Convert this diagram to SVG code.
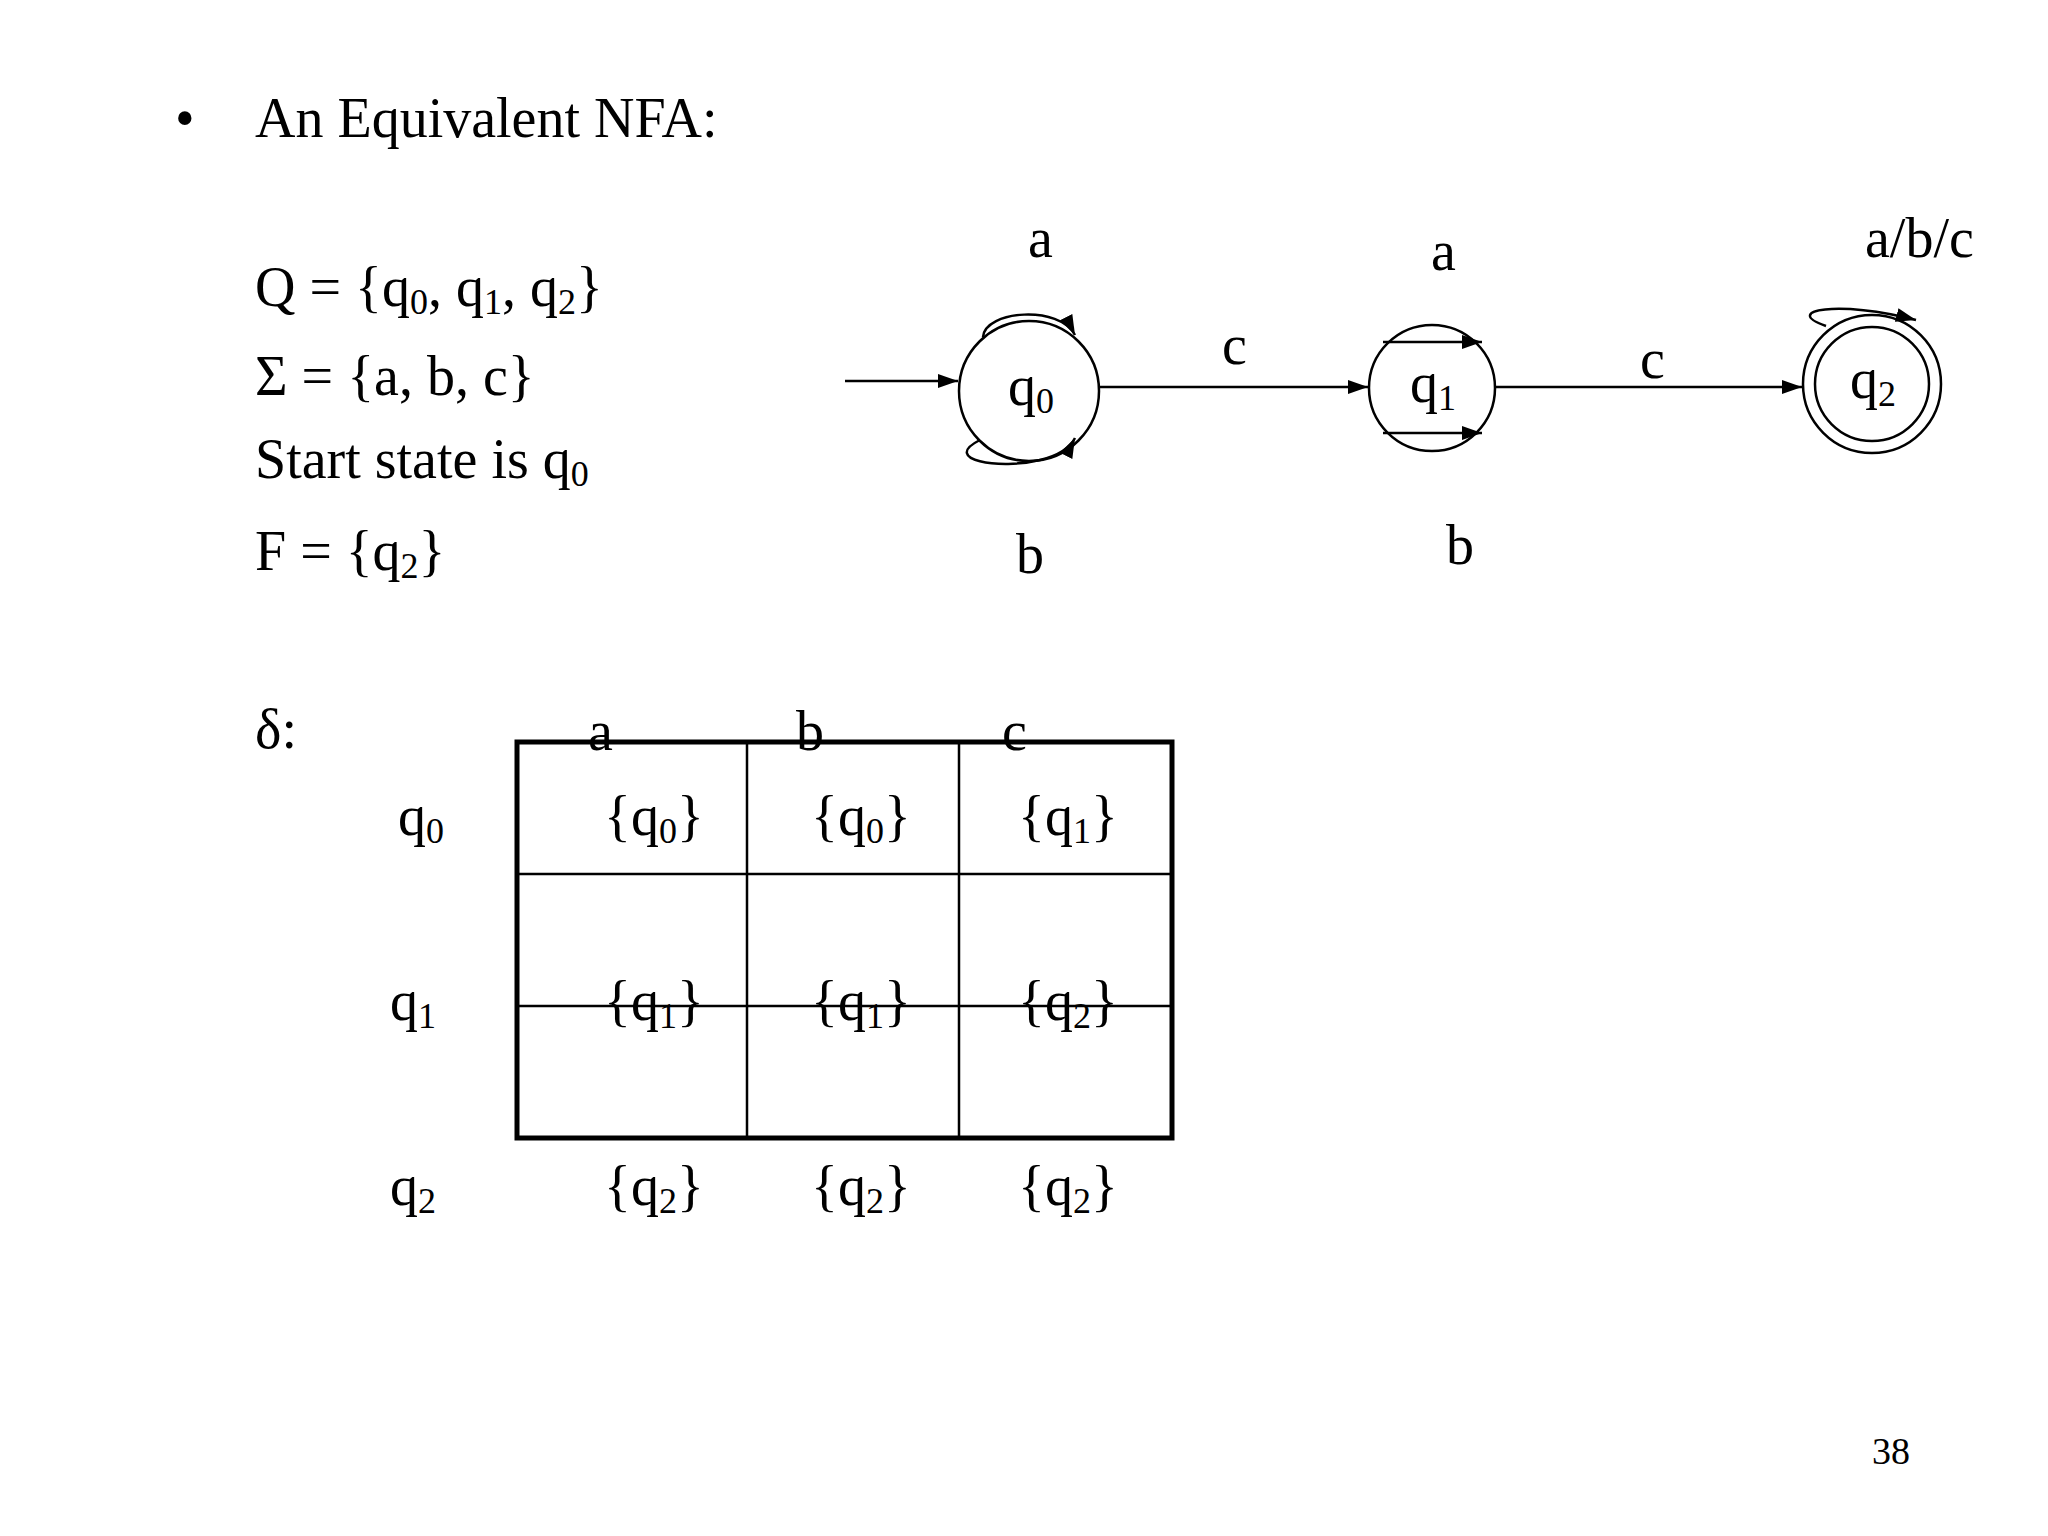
<svg xmlns="http://www.w3.org/2000/svg" width="2048" height="1536" viewBox="0 0 2048 1536">
<defs>
<style>
text{font-family:"Liberation Serif","Times New Roman",serif;font-size:56px;fill:#000}
.s{font-size:36px}
.ln{stroke:#000;stroke-width:2.5;fill:none}
.st{stroke:#000;stroke-width:2.5;fill:#fff}
</style>
<marker id="ah" viewBox="0 0 10 10" refX="10" refY="5" markerWidth="8" markerHeight="8" markerUnits="userSpaceOnUse" orient="auto"><path d="M0,0L10,5L0,10z" fill="#000"/></marker>
<marker id="ah2" viewBox="0 0 10 10" refX="10" refY="5" markerWidth="20" markerHeight="14" markerUnits="userSpaceOnUse" orient="auto" preserveAspectRatio="none"><path d="M0,0L10,5L0,10z" fill="#000"/></marker>
</defs>
<rect width="2048" height="1536" fill="#fff"/>
<g id="text">
<text x="175" y="137">•</text>
<text x="255" y="137">An Equivalent NFA:</text>
<text x="255" y="306">Q = {q<tspan class="s" dy="8">0</tspan><tspan dy="-8">, q</tspan><tspan class="s" dy="8">1</tspan><tspan dy="-8">, q</tspan><tspan class="s" dy="8">2</tspan><tspan dy="-8">}</tspan></text>
<text x="255" y="395">Σ = {a, b, c}</text>
<text x="255" y="478">Start state is q<tspan class="s" dy="8">0</tspan></text>
<text x="255" y="570">F = {q<tspan class="s" dy="8">2</tspan><tspan dy="-8">}</tspan></text>
<text x="1872" y="1464" style="font-size:38px">38</text>
</g>
<g id="connectors">
<line class="ln" x1="845" y1="381" x2="958" y2="381" marker-end="url(#ah2)"/>
<line class="ln" x1="1100" y1="387" x2="1368" y2="387" marker-end="url(#ah2)"/>
<line class="ln" x1="1496" y1="387" x2="1802" y2="387" marker-end="url(#ah2)"/>
</g>
<g id="q0">
<circle class="st" cx="1029" cy="391" r="70"/>
<text x="1008" y="405">q<tspan class="s" dy="8">0</tspan></text>
<path class="ln" d="M983,337 C985,310 1060,305 1075,335" marker-end="url(#ah2)"/>
<path class="ln" d="M980,440 C940,460 1000,470 1040,460 C1060,455 1070,448 1075,438" marker-end="url(#ah2)"/>
</g>
<g id="q1">
<circle class="st" cx="1432" cy="388" r="63"/>
<text x="1410" y="402">q<tspan class="s" dy="8">1</tspan></text>
<line class="ln" x1="1383" y1="342" x2="1482" y2="342" marker-end="url(#ah2)"/>
<line class="ln" x1="1383" y1="433" x2="1482" y2="433" marker-end="url(#ah2)"/>
</g>
<g id="q2">
<circle class="st" cx="1872" cy="384" r="69"/>
<circle class="ln" cx="1872" cy="384" r="57"/>
<text x="1850" y="398">q<tspan class="s" dy="8">2</tspan></text>
<path class="ln" d="M1826,326 C1780,310 1840,300 1916,320" marker-end="url(#ah2)"/>
</g>
<g id="labels">
<text x="1028" y="257">a</text>
<text x="1222" y="364">c</text>
<text x="1431" y="270">a</text>
<text x="1640" y="378">c</text>
<text x="1865" y="257">a/b/c</text>
<text x="1016" y="573">b</text>
<text x="1446" y="564">b</text>
</g>
<g id="table">
<line class="ln" x1="517" y1="874" x2="1172" y2="874"/>
<line class="ln" x1="517" y1="1006" x2="1172" y2="1006"/>
<line class="ln" x1="747" y1="742" x2="747" y2="1138"/>
<line class="ln" x1="959" y1="742" x2="959" y2="1138"/>
<rect x="517" y="742" width="655" height="396" fill="none" stroke="#000" stroke-width="5"/>
<text x="255" y="748">δ:</text>
<text x="588" y="750">a</text><text x="796" y="750">b</text><text x="1002" y="750">c</text>
<text x="398" y="835">q<tspan class="s" dy="8">0</tspan></text>
<text x="390" y="1020">q<tspan class="s" dy="8">1</tspan></text>
<text x="390" y="1205">q<tspan class="s" dy="8">2</tspan></text>
<text x="604" y="835">{q<tspan class="s" dy="8">0</tspan><tspan dy="-8">}</tspan></text>
<text x="811" y="835">{q<tspan class="s" dy="8">0</tspan><tspan dy="-8">}</tspan></text>
<text x="1018" y="835">{q<tspan class="s" dy="8">1</tspan><tspan dy="-8">}</tspan></text>
<text x="604" y="1020">{q<tspan class="s" dy="8">1</tspan><tspan dy="-8">}</tspan></text>
<text x="811" y="1020">{q<tspan class="s" dy="8">1</tspan><tspan dy="-8">}</tspan></text>
<text x="1018" y="1020">{q<tspan class="s" dy="8">2</tspan><tspan dy="-8">}</tspan></text>
<text x="604" y="1205">{q<tspan class="s" dy="8">2</tspan><tspan dy="-8">}</tspan></text>
<text x="811" y="1205">{q<tspan class="s" dy="8">2</tspan><tspan dy="-8">}</tspan></text>
<text x="1018" y="1205">{q<tspan class="s" dy="8">2</tspan><tspan dy="-8">}</tspan></text>
</g>
</svg>
